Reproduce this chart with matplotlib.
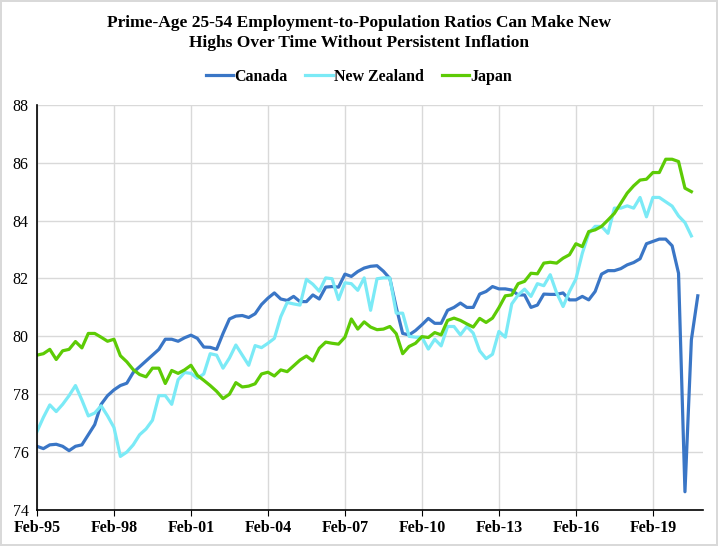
import numpy as np
import matplotlib
matplotlib.use("Agg")
import matplotlib.pyplot as plt

# quarterly data, Feb-95 .. Nov-20 (Feb/May/Aug/Nov)
canada = [76.2, 76.12, 76.25, 76.27, 76.2, 76.05, 76.2, 76.25, 76.6, 76.95,
          77.65, 77.95, 78.15, 78.3, 78.38, 78.75, 78.95, 79.15, 79.35, 79.55,
          79.9, 79.9, 79.83, 79.95, 80.04, 79.93, 79.63, 79.62, 79.55, 80.1,
          80.6, 80.7, 80.72, 80.65, 80.78, 81.1, 81.32, 81.5, 81.29, 81.24,
          81.38, 81.2, 81.2, 81.43, 81.29, 81.7, 81.72, 81.7, 82.15, 82.07,
          82.24, 82.36, 82.42, 82.44, 82.25, 82.0, 81.0, 80.1, 80.05, 80.2,
          80.4, 80.62, 80.45, 80.45, 80.9, 81.0, 81.15, 81.0, 81.0, 81.46,
          81.55, 81.72, 81.64, 81.64, 81.6, 81.43, 81.43, 81.0, 81.08, 81.46,
          81.45, 81.45, 81.5, 81.26, 81.26, 81.38, 81.26, 81.55, 82.15, 82.27,
          82.27, 82.34, 82.47, 82.55, 82.68, 83.2, 83.28, 83.36, 83.36, 83.13,
          82.18, 74.63, 79.88, 81.4]

new_zealand = [76.71, 77.2, 77.63, 77.4, 77.65, 77.95, 78.3, 77.8, 77.25, 77.35,
               77.6, 77.25, 76.85, 75.85, 76.0, 76.25, 76.6, 76.8, 77.1, 77.95,
               77.95, 77.65, 78.5, 78.75, 78.72, 78.55, 78.7, 79.4, 79.35, 78.9,
               79.25, 79.7, 79.35, 79.0, 79.68, 79.61, 79.76, 79.93, 80.68, 81.17,
               81.12, 81.08, 81.97, 81.8, 81.56, 82.02, 81.99, 81.27, 81.85, 81.82,
               81.59, 82.02, 80.9, 81.99, 82.02, 82.02, 80.8, 80.8, 80.0, 79.97,
               79.97, 79.56, 79.9, 79.67, 80.34, 80.34, 80.05, 80.34, 80.11, 79.5,
               79.23, 79.38, 80.17, 79.97, 81.12, 81.43, 81.63, 81.38, 81.82, 81.75,
               82.13, 81.5, 81.03, 81.55, 81.98, 82.87, 83.56, 83.8, 83.8, 83.56,
               84.43, 84.43, 84.51, 84.43, 84.8, 84.13, 84.8, 84.8, 84.65, 84.5,
               84.16, 83.93, 83.47]

japan = [79.35, 79.4, 79.55, 79.2, 79.5, 79.55, 79.82, 79.6, 80.1, 80.1,
         79.97, 79.83, 79.9, 79.33, 79.12, 78.85, 78.68, 78.6, 78.9, 78.9,
         78.37, 78.82, 78.72, 78.84, 79.0, 78.65, 78.48, 78.3, 78.1, 77.85,
         78.0, 78.4, 78.25, 78.28, 78.36, 78.7, 78.76, 78.63, 78.84, 78.78,
         78.98, 79.18, 79.32, 79.15, 79.59, 79.8, 79.76, 79.73, 79.97, 80.6,
         80.25, 80.5, 80.32, 80.23, 80.25, 80.34, 80.09, 79.4, 79.65, 79.76,
         79.99, 79.96, 80.13, 80.05, 80.55, 80.63, 80.55, 80.43, 80.32, 80.62,
         80.48, 80.63, 80.99, 81.4, 81.43, 81.82, 81.9, 82.18, 82.16, 82.53,
         82.56, 82.53, 82.7, 82.82, 83.2, 83.1, 83.62, 83.68, 83.8, 84.02,
         84.25, 84.6, 84.95, 85.2, 85.4, 85.43, 85.66, 85.66, 86.12, 86.12,
         86.04, 85.12, 85.0]

tick_labels = ["Feb-95", "Feb-98", "Feb-01", "Feb-04", "Feb-07",
               "Feb-10", "Feb-13", "Feb-16", "Feb-19"]

plt.rcParams['font.family'] = ['Liberation Serif', 'DejaVu Serif']

fig = plt.figure(figsize=(7.18, 5.46), dpi=100)
fig.patch.set_edgecolor('#d9d9d9')
fig.patch.set_linewidth(1.5)
ax = fig.add_axes([0.0515, 0.066, 0.9275, 0.742])

ax.plot(np.arange(len(canada)), canada, color='#3A76C6', lw=2.3, label='Canada')
ax.plot(np.arange(len(new_zealand)), new_zealand, color='#7BEAF6', lw=2.3, label='New Zealand')
ax.plot(np.arange(len(japan)), japan, color='#5DCB05', lw=2.3, label='Japan')

ax.set_xlim(0, 103.8)
ax.set_ylim(74, 88)
ax.set_yticks(np.arange(74, 89, 2))
ax.set_xticks(np.arange(len(tick_labels)) * 12)
ax.set_xticklabels(tick_labels, fontweight='bold')
ax.tick_params(axis='x', length=4, labelsize=11.5, pad=3)
ax.tick_params(axis='y', length=0, labelsize=11.5, pad=6)
ax.grid(True, color='#d9d9d9', lw=1)
ax.set_axisbelow(True)
for s in ['top', 'right']:
    ax.spines[s].set_visible(False)
ax.spines['left'].set_linewidth(1.2)
ax.spines['bottom'].set_linewidth(1.2)

fig.suptitle("Prime-Age 25-54 Employment-to-Population Ratios Can Make New\n"
             "Highs Over Time Without Persistent Inflation",
             y=0.972, fontsize=12.5, fontweight='bold', linespacing=1.3)
fig.legend(loc='center', bbox_to_anchor=(0.5, 0.859), ncol=3, frameon=False,
           prop={'weight': 'bold', 'size': 11.5}, handlelength=1.7,
           handletextpad=0.1, columnspacing=1.1)

fig.savefig("out.png", dpi=100, edgecolor=fig.get_edgecolor())
